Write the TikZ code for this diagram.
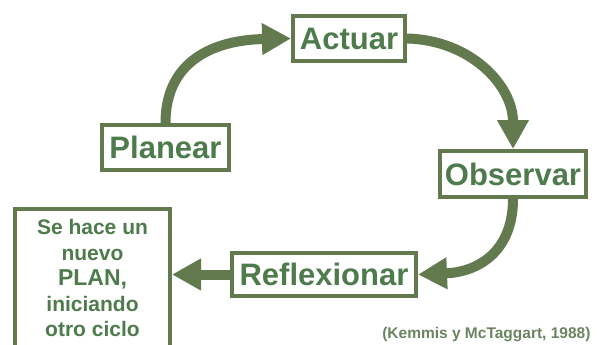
\documentclass[tikz,border=0pt]{standalone}
\usepackage{fontspec}
\setmainfont{Liberation Sans}
\usetikzlibrary{arrows.meta}
\definecolor{bordergreen}{HTML}{627A4E}
\definecolor{textgreen}{HTML}{4E7B4C}
\definecolor{citegreen}{HTML}{6B8460}
\tikzset{
  stagebox/.style={draw=bordergreen, line width=4pt, text=textgreen,
    font=\fontsize{31}{36}\selectfont\bfseries, inner sep=0pt},
  cyclearrow/.style={draw=bordergreen, line width=10pt,
    -{Triangle[length=29pt,width=30pt]}},
}
\begin{document}
\begin{tikzpicture}[x=1pt,y=-1pt]
\path[use as bounding box] (0,0) rectangle (597,345);
\clip (0,0) rectangle (597,345);
\node[stagebox, minimum width=127pt, minimum height=45pt] (planear) at (165.5,147.5) {Planear};
\node[stagebox, minimum width=112pt, minimum height=45pt] (actuar) at (349,38.5) {Actuar};
\node[stagebox, minimum width=146pt, minimum height=46pt] (observar) at (513,174) {Observar};
\node[stagebox, minimum width=184pt, minimum height=43pt] (reflexionar) at (324,274.5) {Reflexionar};
\node[draw=bordergreen, line width=4pt, text=textgreen, align=center,
  font=\fontsize{21}{25.5}\selectfont\bfseries, minimum width=155pt,
  inner xsep=0pt, inner ysep=10.5pt, anchor=north] (sehace) at (92.5,207)
  {Se hace un\\nuevo\\{\fontsize{23}{25.5}\selectfont PLAN,}\\iniciando\\otro ciclo\\[10pt]\mbox{}};
\node[font=\fontsize{15.5}{18}\selectfont\bfseries, text=citegreen, anchor=base east] (cite) at (594,338) {(Kemmis y McTaggart, 1988)};
\draw[cyclearrow] (planear.north) .. controls (165.5,60) and (215,40) .. (actuar.west);
\draw[cyclearrow] (actuar.east) .. controls (470,40) and (513,85) .. (observar.north);
\draw[cyclearrow] (observar.south) .. controls (513,250) and (480,272) .. (reflexionar.east);
\draw[cyclearrow] (reflexionar.west) -- (sehace.east |- reflexionar.west);
\end{tikzpicture}
\end{document}
